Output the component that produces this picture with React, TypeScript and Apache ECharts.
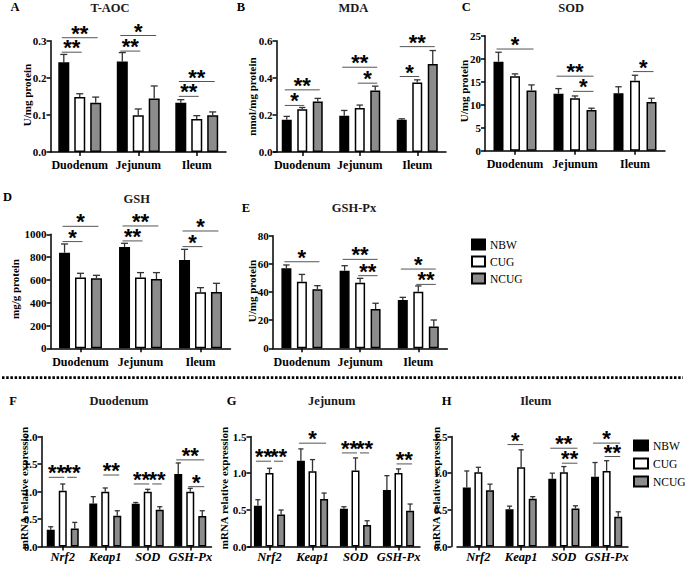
import React, { useEffect, useRef } from "react";
import * as echarts from "echarts";

// ---------- categories ----------
const tissues = ["Duodenum", "Jejunum", "Ileum"];
const genes = ["Nrf2", "Keap1", "SOD", "GSH-Px"];
const groups = ["NBW", "CUG", "NCUG"];

// ---------- A: T-AOC (U/mg protein) ----------
const taocNBW = [0.242, 0.244, 0.133];
const taocNBWsd = [0.021, 0.024, 0.008];
const taocCUG = [0.148, 0.099, 0.089];
const taocCUGsd = [0.009, 0.017, 0.009];
const taocNCUG = [0.133, 0.144, 0.099];
const taocNCUGsd = [0.015, 0.034, 0.009];
// [category, fromGroup, toGroup, y, label]
const taocSig: [number, number, number, number, string][] = [
  [0, 0, 1, 0.269, "**"], [0, 0, 2, 0.308, "**"],
  [1, 0, 1, 0.272, "**"], [1, 0, 2, 0.314, "*"],
  [2, 0, 1, 0.15, "**"], [2, 0, 2, 0.19, "**"],
];

// ---------- B: MDA (nmol/mg protein) ----------
const mdaNBW = [0.174, 0.195, 0.174];
const mdaNBWsd = [0.018, 0.029, 0.005];
const mdaCUG = [0.231, 0.237, 0.375];
const mdaCUGsd = [0.009, 0.016, 0.014];
const mdaNCUG = [0.272, 0.332, 0.475];
const mdaNCUGsd = [0.017, 0.023, 0.072];
const mdaSig: [number, number, number, number, string][] = [
  [0, 0, 1, 0.251, "*"], [0, 0, 2, 0.335, "**"],
  [1, 1, 2, 0.371, "*"], [1, 0, 2, 0.457, "**"],
  [2, 0, 1, 0.407, "*"], [2, 0, 2, 0.568, "**"],
];

// ---------- C: SOD (U/mg protein) ----------
const sodNBW = [19.35, 12.4, 12.5];
const sodNBWsd = [2.05, 1.1, 1.4];
const sodCUG = [16.2, 11.4, 15.2];
const sodCUGsd = [0.5, 0.5, 1.2];
const sodNCUG = [13.1, 8.84, 10.6];
const sodNCUGsd = [1.2, 0.4, 0.8];
const sodSig: [number, number, number, number, string][] = [
  [0, 0, 2, 22.1, "*"],
  [1, 0, 2, 16.2, "**"], [1, 1, 2, 12.9, "*"],
  [2, 1, 2, 17.2, "*"],
];

// ---------- D: GSH (mg/g protein) ----------
const gshNBW = [839, 889, 775];
const gshNBWsd = [76, 32, 93];
const gshCUG = [620, 620, 491];
const gshCUGsd = [38, 44, 41];
const gshNCUG = [614, 608, 494];
const gshNCUGsd = [26, 56, 76];
const gshSig: [number, number, number, number, string][] = [
  [0, 0, 1, 936, "*"], [0, 0, 2, 1070, "*"],
  [1, 0, 1, 942, "**"], [1, 0, 2, 1073, "**"],
  [2, 0, 1, 892, "*"], [2, 0, 2, 1029, "*"],
];

// ---------- E: GSH-Px (U/mg protein) ----------
const gpxNBW = [56.8, 55.1, 34.3];
const gpxNBWsd = [2.4, 3.6, 1.9];
const gpxCUG = [47.3, 46.6, 40.2];
const gpxCUGsd = [5.2, 3.1, 4.1];
const gpxNCUG = [41.9, 27.9, 15.4];
const gpxNCUGsd = [2.6, 4.1, 4.7];
const gpxSig: [number, number, number, number, string][] = [
  [0, 0, 2, 61.5, "*"],
  [1, 0, 2, 63.2, "**"], [1, 1, 2, 51.6, "**"],
  [2, 0, 2, 56.3, "*"], [2, 1, 2, 45.4, "**"],
];

// ---------- F: Duodenum mRNA ----------
const duoNBW = [0.304, 0.784, 0.778, 1.319];
const duoNBWsd = [0.055, 0.122, 0.022, 0.2];
const duoCUG = [1.015, 0.997, 0.997, 0.997];
const duoCUGsd = [0.122, 0.067, 0.043, 0.061];
const duoNCUG = [0.328, 0.559, 0.669, 0.553];
const duoNCUGsd = [0.11, 0.091, 0.054, 0.097];
const duoSig: [number, number, number, number, string][] = [
  [0, 0, 1, 1.258, "**"], [0, 1, 2, 1.258, "**"],
  [1, 1, 2, 1.3, "**"],
  [2, 0, 1, 1.137, "**"], [2, 1, 2, 1.137, "**"],
  [3, 0, 2, 1.575, "**"], [3, 1, 2, 1.088, "*"],
];

// ---------- G: Jejunum mRNA ----------
const jejNBW = [0.556, 1.171, 0.515, 0.77];
const jejNBWsd = [0.082, 0.16, 0.027, 0.196];
const jejCUG = [1.003, 1.026, 1.035, 1.003];
const jejCUGsd = [0.064, 0.159, 0.173, 0.055];
const jejNCUG = [0.438, 0.647, 0.292, 0.488];
const jejNCUGsd = [0.059, 0.082, 0.059, 0.091];
const jejSig: [number, number, number, number, string][] = [
  [0, 0, 1, 1.163, "**"], [0, 1, 2, 1.163, "**"],
  [1, 0, 2, 1.409, "*"],
  [2, 0, 1, 1.276, "**"], [2, 1, 2, 1.276, "**"],
  [3, 1, 2, 1.126, "**"],
];

// ---------- H: Ileum mRNA ----------
const ileNBW = [0.805, 0.509, 0.923, 0.95];
const ileNBWsd = [0.225, 0.041, 0.077, 0.195];
const ileCUG = [1.014, 1.08, 1.014, 1.03];
const ileCUGsd = [0.066, 0.238, 0.076, 0.14];
const ileNCUG = [0.768, 0.65, 0.518, 0.405];
const ileNCUGsd = [0.082, 0.03, 0.037, 0.068];
const ileSig: [number, number, number, number, string][] = [
  [1, 0, 1, 1.39, "*"],
  [2, 0, 2, 1.34, "**"], [2, 1, 2, 1.136, "**"],
  [3, 0, 2, 1.41, "*"], [3, 1, 2, 1.227, "**"],
];

const SERIF = "Liberation Serif, Times New Roman, serif";
const STAR_FONT = "bold 22px Liberation Sans, Arial, sans-serif";
const barColors = ["#000000", "#ffffff", "#8c8c8c"];

type Panel = {
  letter: string; title: string; yName: string;
  cats: string[]; means: number[][]; sds: number[][];
  sig: [number, number, number, number, string][];
  max: number; interval: number; dec: number;
  grid: { left: number; top: number; width: number; height: number };
  barW: number; gap: number; yOffset: number; labelMargin: number; italic: boolean;
  letterPos: [number, number]; titlePos: [number, number]; yNamePos: [number, number];
};

const panels: Panel[] = [
  {
    letter: "A", title: "T-AOC", yName: "U/mg protein", cats: tissues,
    means: [taocNBW, taocCUG, taocNCUG], sds: [taocNBWsd, taocCUGsd, taocNCUGsd], sig: taocSig,
    max: 0.3, interval: 0.1, dec: 1,
    grid: { left: 50.5, top: 40.7, width: 175.5, height: 111.3 },
    barW: 11, gap: 0.45, yOffset: 0, labelMargin: 7, italic: false,
    letterPos: [10.5, 7], titlePos: [110, 7.5], yNamePos: [27, 95],
  },
  {
    letter: "B", title: "MDA", yName: "nmol/mg protein", cats: tissues,
    means: [mdaNBW, mdaCUG, mdaNCUG], sds: [mdaNBWsd, mdaCUGsd, mdaNCUGsd], sig: mdaSig,
    max: 0.6, interval: 0.2, dec: 1,
    grid: { left: 273.5, top: 40.7, width: 172.5, height: 111.3 },
    barW: 10, gap: 0.55, yOffset: -3, labelMargin: 7, italic: false,
    letterPos: [236.7, 7], titlePos: [353.3, 7.5], yNamePos: [251.7, 96.5],
  },
  {
    letter: "C", title: "SOD", yName: "U/mg protein", cats: tissues,
    means: [sodNBW, sodCUG, sodNCUG], sds: [sodNBWsd, sodCUGsd, sodNCUGsd], sig: sodSig,
    max: 25, interval: 5, dec: 0,
    grid: { left: 485, top: 35.7, width: 180, height: 115 },
    barW: 10, gap: 0.65, yOffset: 0, labelMargin: 7, italic: false,
    letterPos: [461.7, 7], titlePos: [571.2, 7.5], yNamePos: [464, 91],
  },
  {
    letter: "D", title: "GSH", yName: "mg/g protein", cats: tissues,
    means: [gshNBW, gshCUG, gshNCUG], sds: [gshNBWsd, gshCUGsd, gshNCUGsd], sig: gshSig,
    max: 1000, interval: 200, dec: 0,
    grid: { left: 50.5, top: 234.3, width: 180, height: 114 },
    barW: 11, gap: 0.45, yOffset: 0, labelMargin: 7.5, italic: false,
    letterPos: [3, 197], titlePos: [136.7, 198.5], yNamePos: [15, 289],
  },
  {
    letter: "E", title: "GSH-Px", yName: "U/mg protein", cats: tissues,
    means: [gpxNBW, gpxCUG, gpxNCUG], sds: [gpxNBWsd, gpxCUGsd, gpxNCUGsd], sig: gpxSig,
    max: 80, interval: 20, dec: 0,
    grid: { left: 272.8, top: 235.7, width: 174.6, height: 112.6 },
    barW: 10, gap: 0.55, yOffset: 0, labelMargin: 7.5, italic: false,
    letterPos: [241.7, 208], titlePos: [354, 208], yNamePos: [251.7, 291],
  },
  {
    letter: "F", title: "Duodenum", yName: "mRNA relative expression", cats: genes,
    means: [duoNBW, duoCUG, duoNCUG], sds: [duoNBWsd, duoCUGsd, duoNCUGsd], sig: duoSig,
    max: 2, interval: 0.5, dec: 1,
    grid: { left: 41.5, top: 436.5, width: 170, height: 110 },
    barW: 8, gap: 0.5, yOffset: 0, labelMargin: 4, italic: true,
    letterPos: [9.3, 400.7], titlePos: [119, 400.7], yNamePos: [23.5, 488],
  },
  {
    letter: "G", title: "Jejunum", yName: "mRNA relative expression", cats: genes,
    means: [jejNBW, jejCUG, jejNCUG], sds: [jejNBWsd, jejCUGsd, jejNCUGsd], sig: jejSig,
    max: 1.5, interval: 0.5, dec: 1,
    grid: { left: 248, top: 436.5, width: 172, height: 110 },
    barW: 8, gap: 0.45, yOffset: -2.5, labelMargin: 4, italic: true,
    letterPos: [226.7, 400.7], titlePos: [331.7, 400.7], yNamePos: [223.5, 488],
  },
  {
    letter: "H", title: "Ileum", yName: "mRNA relative expression", cats: genes,
    means: [ileNBW, ileCUG, ileNCUG], sds: [ileNBWsd, ileCUGsd, ileNCUGsd], sig: ileSig,
    max: 1.5, interval: 0.5, dec: 1,
    grid: { left: 457, top: 436.5, width: 171, height: 110 },
    barW: 8, gap: 0.45, yOffset: 5.5, labelMargin: 4, italic: true,
    letterPos: [441.7, 400.7], titlePos: [535.8, 400.7], yNamePos: [436, 488],
  },
];

function txt(x: number, y: number, text: string, font: string, align: string, rotation = 0, fill = "#000") {
  return {
    type: "text", x, y, rotation, silent: true,
    style: { text, font, fill, align, verticalAlign: "middle", textAlign: align, textVerticalAlign: "middle" },
  };
}

function buildOption() {
  const grid: any[] = [], xAxis: any[] = [], yAxis: any[] = [], series: any[] = [], graphic: any[] = [];
  panels.forEach((p, k) => {
    grid.push({ ...p.grid, containLabel: false });
    xAxis.push({
      type: "category", gridIndex: k, data: p.cats, boundaryGap: true,
      axisLine: { show: true, onZero: false, lineStyle: { color: "#000", width: 1.5 } },
      axisTick: { show: true, alignWithLabel: true, length: 4, lineStyle: { color: "#000", width: 1.5 } },
      axisLabel: {
        interval: 0, margin: p.labelMargin, color: "#000", fontFamily: SERIF, fontWeight: "bold",
        fontSize: p.italic ? 12.5 : 12, fontStyle: p.italic ? "italic" : "normal",
      },
      splitLine: { show: false },
    });
    yAxis.push({
      type: "value", gridIndex: k, min: 0, max: p.max, interval: p.interval, offset: p.yOffset,
      axisLine: { show: true, lineStyle: { color: "#000", width: 1.5 } },
      axisTick: { show: true, length: 4, lineStyle: { color: "#000", width: 1.5 } },
      axisLabel: {
        margin: 4, color: "#000", fontFamily: SERIF, fontWeight: "bold", fontSize: 11,
        formatter: (v: number) => v.toFixed(p.dec),
      },
      splitLine: { show: false },
    });
    const step = p.barW * (1 + p.gap);
    groups.forEach((g, i) => {
      series.push({
        type: "bar", name: g, xAxisIndex: k, yAxisIndex: k, data: p.means[i],
        barWidth: p.barW, barGap: `${p.gap * 100}%`,
        itemStyle: { color: barColors[i], borderColor: "#000", borderWidth: 1.5 },
        emphasis: { disabled: true },
      });
    });
    // error bars
    const errData: number[][] = [];
    groups.forEach((_, i) => p.cats.forEach((_c, j) => errData.push([j, i, p.means[i][j], p.sds[i][j]])));
    series.push({
      type: "custom", xAxisIndex: k, yAxisIndex: k, data: errData, encode: { x: 0, y: 2 }, silent: true, z: 3,
      renderItem: (_params: any, api: any) => {
        const j = api.value(0), i = api.value(1), m = api.value(2), s = api.value(3);
        const p0 = api.coord([j, m]);
        const p1 = api.coord([j, m + s]);
        const x = p0[0] + (i - 1) * step;
        const cap = p.barW * 0.32;
        const st = { stroke: "#333", lineWidth: 1.3 };
        return {
          type: "group",
          children: [
            { type: "line", shape: { x1: x, y1: p0[1], x2: x, y2: p1[1] }, style: st },
            { type: "line", shape: { x1: x - cap, y1: p1[1], x2: x + cap, y2: p1[1] }, style: st },
          ],
        };
      },
    });
    // significance brackets
    const sig = p.sig;
    series.push({
      type: "custom", xAxisIndex: k, yAxisIndex: k, data: sig.map((s) => [s[0], s[1], s[2], s[3]]),
      encode: { x: 0, y: 3 }, silent: true, z: 4, clip: false,
      renderItem: (params: any, api: any) => {
        const idx = params.dataIndex;
        const [c, a, b, yv, label] = sig[idx];
        const pc = api.coord([c, yv]);
        const leftOfPair = sig.some((o, n) => n !== idx && o[0] === c && o[3] === yv && o[1] === b);
        const rightOfPair = sig.some((o, n) => n !== idx && o[0] === c && o[3] === yv && o[2] === a);
        let x1 = pc[0] + (a - 1) * step - 2;
        let x2 = pc[0] + (b - 1) * step + 2;
        if (leftOfPair) x2 = pc[0] + (b - 1) * step + 1.5;
        if (rightOfPair) x1 = pc[0] + (a - 1) * step + 4.5;
        const y = pc[1];
        return {
          type: "group",
          children: [
            { type: "line", shape: { x1, y1: y, x2, y2: y }, style: { stroke: "#555", lineWidth: 1 } },
            {
              type: "text",
              style: {
                text: label, x: (x1 + x2) / 2, y: y - 4.5, font: STAR_FONT, fill: "#000",
                align: "center", verticalAlign: "middle", textAlign: "center", textVerticalAlign: "middle",
              },
            },
          ],
        };
      },
    });
    // labels
    graphic.push(txt(p.letterPos[0], p.letterPos[1], p.letter, `bold 12.5px ${SERIF}`, "left"));
    graphic.push(txt(p.titlePos[0], p.titlePos[1], p.title, `bold 12.5px ${SERIF}`, "center", 0, "#1a1a1a"));
    graphic.push(txt(p.yNamePos[0], p.yNamePos[1], p.yName, `bold 11px ${SERIF}`, "center", Math.PI / 2));
  });

  graphic.push({
    type: "line", silent: true,
    shape: { x1: 2, y1: 377.7, x2: 683, y2: 377.7 },
    style: { stroke: "#000", lineWidth: 2.8, lineDash: [2.5, 1.7] },
  });

  const legendBase = {
    data: groups, orient: "vertical", selectedMode: false, icon: "rect", padding: 0,
  };

  return {
    animation: false,
    backgroundColor: "#ffffff",
    grid, xAxis, yAxis, series, graphic,
    legend: [
      {
        ...legendBase, left: 471, top: 238.5, itemWidth: 13, itemHeight: 10, itemGap: 5,
        textStyle: { fontFamily: SERIF, fontSize: 11.5, color: "#000" },
      },
      {
        ...legendBase, left: 633, top: 439.5, itemWidth: 14, itemHeight: 10, itemGap: 6,
        textStyle: { fontFamily: SERIF, fontSize: 11.5, color: "#000" },
      },
    ],
  };
}

export default function App() {
  const ref = useRef<HTMLDivElement>(null);
  useEffect(() => {
    document.body.style.margin = "0";
    const chart = echarts.init(ref.current!, undefined, { renderer: "svg" });
    chart.setOption(buildOption() as any);
    return () => chart.dispose();
  }, []);
  return <div ref={ref} style={{ width: 685, height: 566, position: "absolute", left: 0, top: 0 }} />;
}
